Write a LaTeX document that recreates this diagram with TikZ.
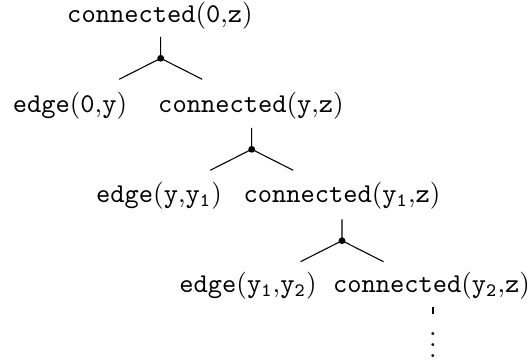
\documentclass[tikz,border=0pt]{standalone}
\begin{document}
\begin{tikzpicture}[x=0.3682pt,y=-0.3682pt,
  lbl/.style={inner sep=0pt},
  jdot/.style={circle,fill,inner sep=0pt,minimum size=2.5pt},
  branch/.style={line width=0.4pt}]
\useasboundingbox (0,0) rectangle (528,360);
% nodes
\node[lbl] (A) at (160,16) {$\mathtt{connected(0{,}z)}$};
\node[lbl] (B) at (70,106) {$\mathtt{edge(0{,}y)}$};
\node[lbl] (C) at (251,106) {$\mathtt{connected(y{,}z)}$};
\node[lbl] (D) at (159,196) {$\mathtt{edge(y{,}y_1)}$};
\node[lbl] (E) at (342,196) {$\mathtt{connected(y_1{,}z)}$};
\node[lbl] (F) at (248,286) {$\mathtt{edge(y_1{,}y_2)}$};
\node[lbl] (G) at (431.5,286) {$\mathtt{connected(y_2{,}z)}$};
\node[lbl] (V) at (433,337) {$\vdots$};
% junctions
\node[jdot] (j1) at (160.7,58.3) {};
\coordinate (t1) at (160.7,37);
\coordinate (l1) at (119.2,79.3);
\coordinate (r1) at (202.2,79.3);
\node[jdot] (j2) at (251.7,149.3) {};
\coordinate (t2) at (251.7,128);
\coordinate (l2) at (210.2,170.3);
\coordinate (r2) at (293.2,170.3);
\node[jdot] (j3) at (342,240.7) {};
\coordinate (t3) at (342,219.5);
\coordinate (l3) at (300.5,261.7);
\coordinate (r3) at (383.5,261.7);
\coordinate (g1) at (433,307);
\coordinate (g2) at (433,314);
% connectors
\draw[branch] (t1) -- (j1.center) (j1.center) -- (l1) (j1.center) -- (r1);
\draw[branch] (t2) -- (j2.center) (j2.center) -- (l2) (j2.center) -- (r2);
\draw[branch] (t3) -- (j3.center) (j3.center) -- (l3) (j3.center) -- (r3);
\draw[branch] (g1) -- (g2);
\end{tikzpicture}
\end{document}
